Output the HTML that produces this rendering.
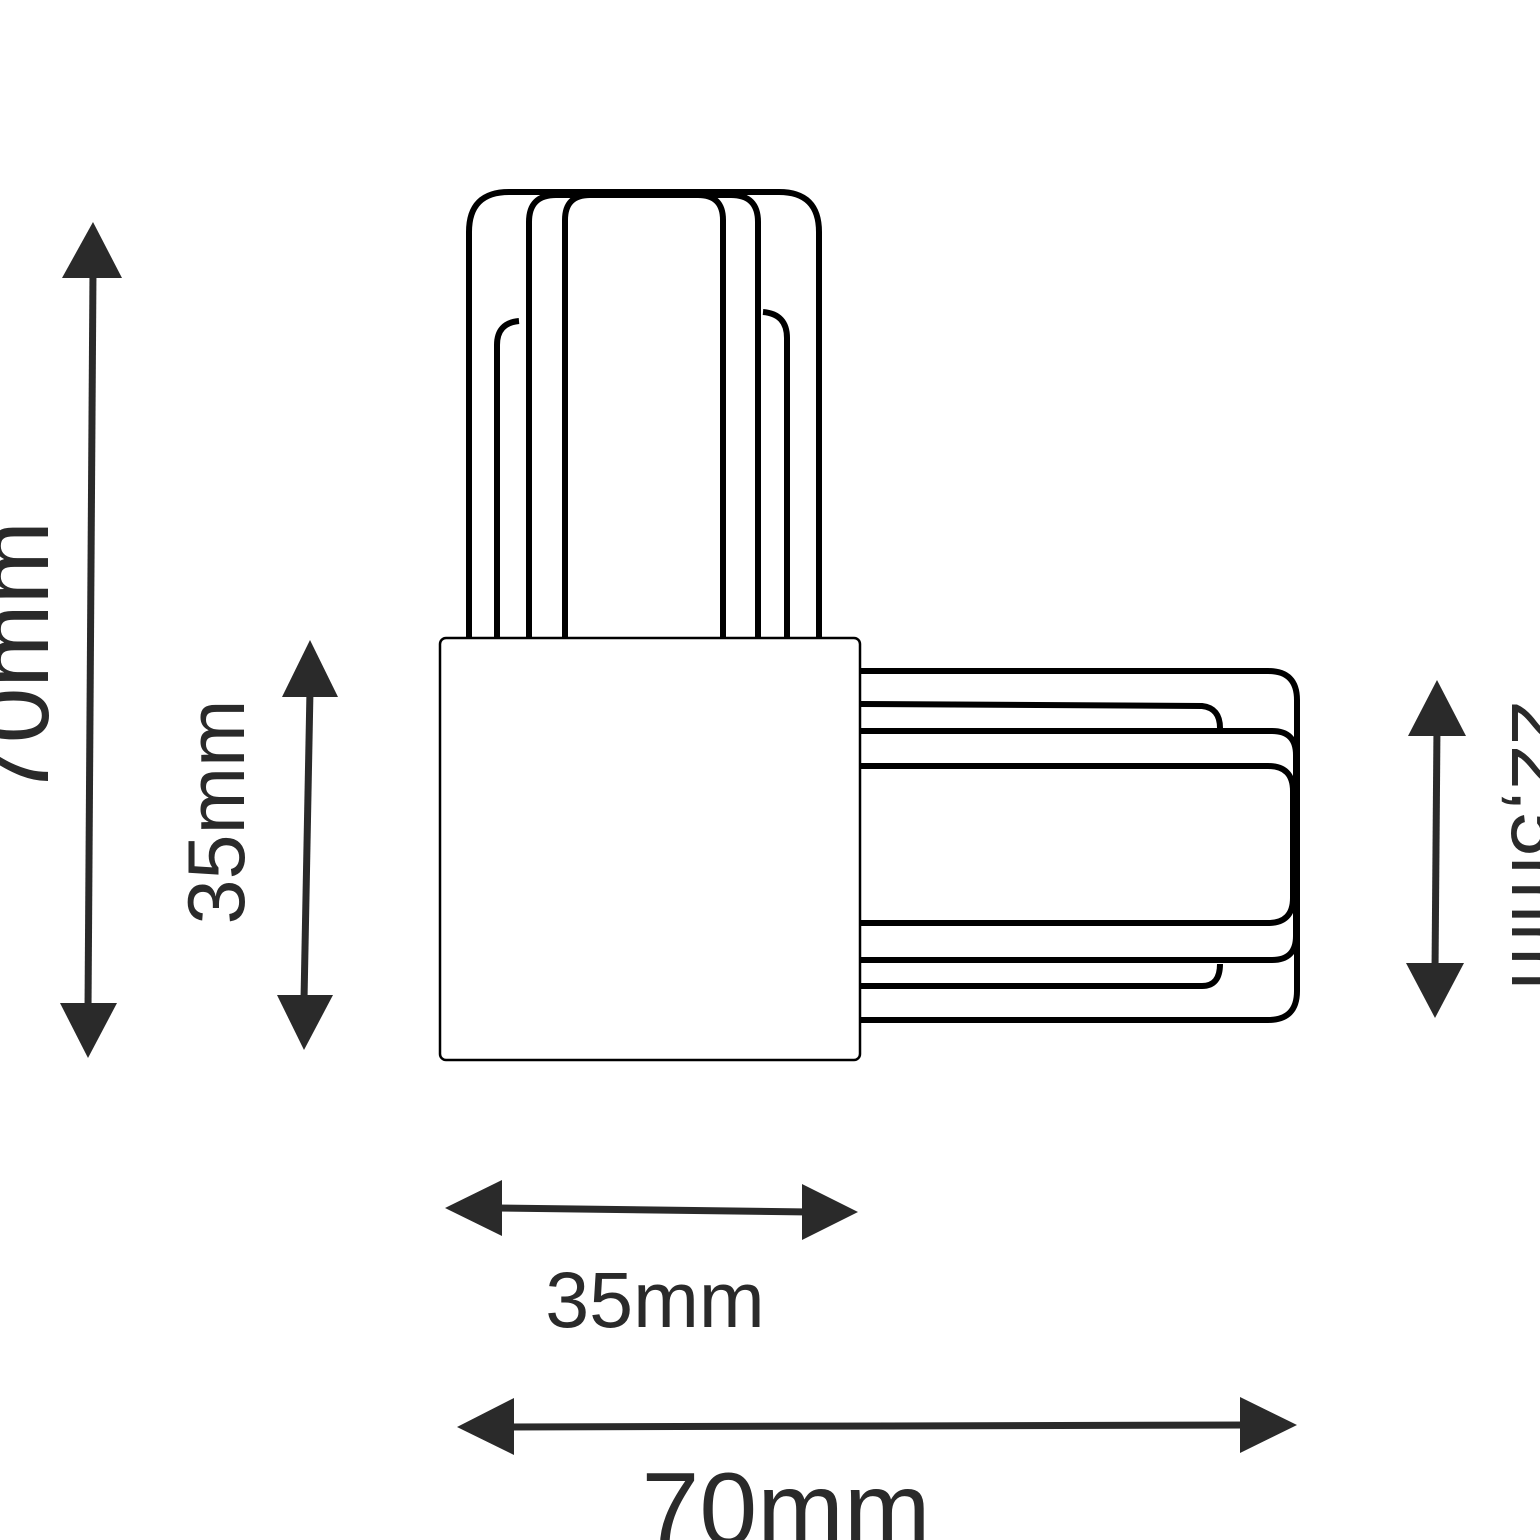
<!DOCTYPE html>
<html><head><meta charset="utf-8"><style>html,body{margin:0;padding:0;background:#fff}svg{display:block}</style></head>
<body>
<svg width="1540" height="1540" viewBox="0 0 1540 1540" xmlns="http://www.w3.org/2000/svg">
<rect width="1540" height="1540" fill="#fff"/>
<g fill="none" stroke="#000" stroke-width="6" stroke-linecap="butt">
  <!-- top piece -->
  <path d="M469 638 V232 Q469 192 509 192 H779 Q819 192 819 232 V638"/>
  <path d="M529 638 V222 Q529 195 556 195 H731 Q758 195 758 222 V638"/>
  <path d="M565 638 V220 Q565 195 590 195 H698 Q723 195 723 220 V638"/>
  <path d="M519 321 Q497 323 497 345 V638"/>
  <path d="M763 312 Q787 314 787 338 V638"/>
  <!-- right piece -->
  <path d="M860 671 H1268 Q1297 671 1297 700 V991 Q1297 1020 1268 1020 H860"/>
  <path d="M860 704 L1202 706 Q1220 708 1220 728"/>
  <path d="M860 731 H1272 Q1296 731 1296 755 V936 Q1296 960 1272 960 H860"/>
  <path d="M860 766 H1268 Q1293 766 1293 791 V898 Q1293 923 1268 923 H860"/>
  <path d="M860 986 H1202 Q1220 986 1220 964"/>
</g>
<rect x="440" y="638" width="420" height="422" rx="6" fill="#fff" stroke="#000" stroke-width="2.5"/>
<!-- arrows -->
<g stroke="#2a2a2a" stroke-width="7" fill="#2a2a2a">
  <line x1="93" y1="270" x2="88" y2="1010"/>
  <polygon stroke="none" points="93,222 62,278 122,278"/>
  <polygon stroke="none" points="88,1058 60,1003 117,1003"/>
  <line x1="310" y1="690" x2="304" y2="1000"/>
  <polygon stroke="none" points="310,640 282,697 338,697"/>
  <polygon stroke="none" points="304,1050 277,995 333,995"/>
  <line x1="495" y1="1208" x2="810" y2="1212"/>
  <polygon stroke="none" points="445,1208 502,1180 502,1236"/>
  <polygon stroke="none" points="858,1212 802,1184 802,1240"/>
  <line x1="505" y1="1427" x2="1250" y2="1425"/>
  <polygon stroke="none" points="457,1427 514,1398 514,1455"/>
  <polygon stroke="none" points="1297,1425 1240,1397 1240,1453"/>
  <line x1="1437" y1="725" x2="1435" y2="972"/>
  <polygon stroke="none" points="1437,680 1408,736 1466,736"/>
  <polygon stroke="none" points="1435,1018 1406,963 1464,963"/>
</g>
<g font-family="Liberation Sans, Arial, sans-serif" fill="#2a2a2a" text-anchor="middle">
  <text x="48" y="660" font-size="100" transform="rotate(-90 48 660)">70mm</text>
  <text x="244" y="812" font-size="81" transform="rotate(-90 244 812)">35mm</text>
  <text x="1512" y="845" font-size="80" transform="rotate(90 1512 845)">22,5mm</text>
  <text x="655" y="1327" font-size="79">35mm</text>
  <text x="786" y="1545" font-size="104">70mm</text>
</g>
</svg>
</body></html>
